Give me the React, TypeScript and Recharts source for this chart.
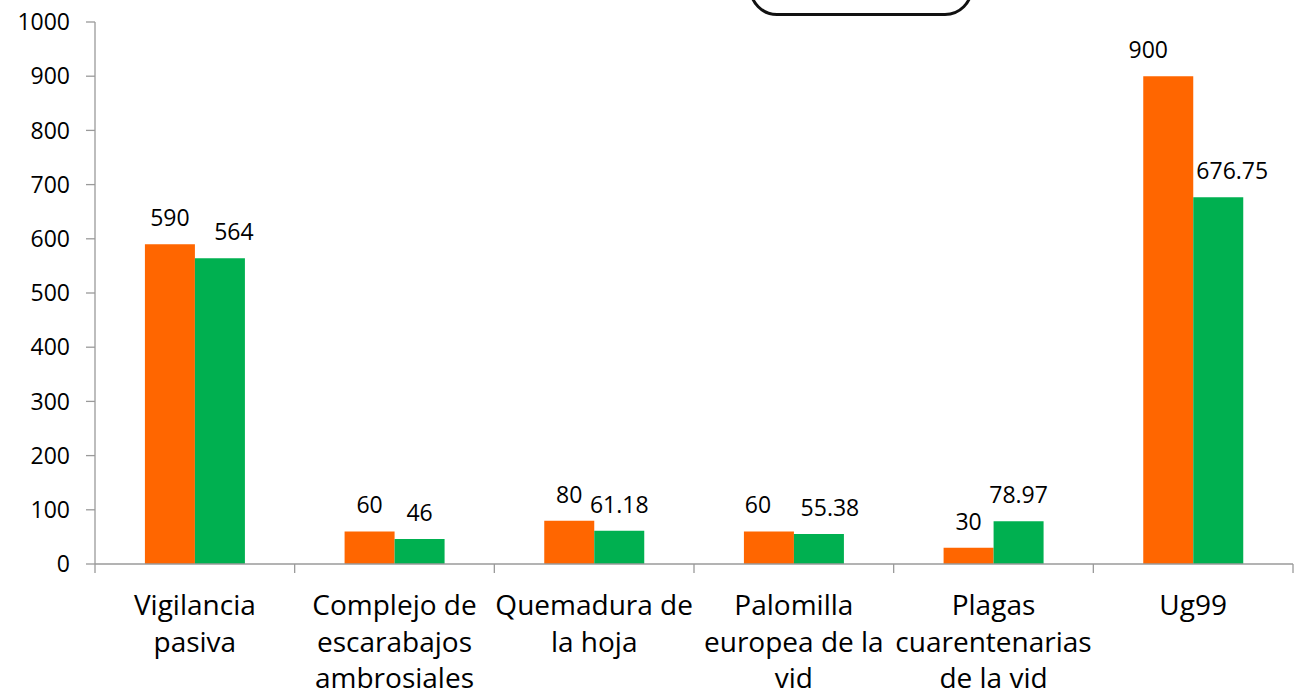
import { Bar, BarChart, LabelList, Legend, XAxis, YAxis } from "recharts";

const categories = [
  "Vigilancia\npasiva",
  "Complejo de\nescarabajos\nambrosiales",
  "Quemadura de\nla hoja",
  "Palomilla\neuropea de la\nvid",
  "Plagas\ncuarentenarias\nde la vid",
  "Ug99",
];
const orangeValues = [590, 60, 80, 60, 30, 900];
const greenValues = [564, 46, 61.18, 55.38, 78.97, 676.75];
const yTicks = [0, 100, 200, 300, 400, 500, 600, 700, 800, 900, 1000];

// some labels were nudged sideways in the original
const orangeNudge = [0, 0, 0, -11, 0, -20];
const greenNudge = [14, 0, 0, 11, 0, 14];

const FONT = "'Open Sans', Lato, sans-serif";
const AXIS = "#9a9a9a";
const W = 1309;
const H = 697;
const MARGIN = { top: 22, right: 16, left: 0, bottom: 0 };
const Y_WIDTH = 95;
// half of one category band, so tick marks sit between categories
const HALF_BAND = (W - MARGIN.right - Y_WIDTH) / categories.length / 2;

const data = categories.map((name, i) => ({
  name,
  orange: orangeValues[i],
  green: greenValues[i],
}));

type TickProps = {
  x?: number;
  y?: number;
  index?: number;
  payload?: { value: string };
};

function CategoryTick({ x = 0, y = 0, index = 0, payload }: TickProps) {
  const lines = (payload?.value ?? "").split("\n");
  const last = index === categories.length - 1;
  return (
    <g>
      <line x1={x - HALF_BAND} x2={x - HALF_BAND} y1={y} y2={y + 9} stroke={AXIS} strokeWidth={1.3} />
      {last && (
        <line x1={x + HALF_BAND} x2={x + HALF_BAND} y1={y} y2={y + 9} stroke={AXIS} strokeWidth={1.3} />
      )}
      <text x={x} y={y} textAnchor="middle" fontSize={28} fill="#000" fontFamily={FONT}>
        {lines.map((l, i) => (
          <tspan key={i} x={x} y={y + 51 + i * 36.5}>
            {l}
          </tspan>
        ))}
      </text>
    </g>
  );
}

function makeLabel(nudge: number[]) {
  return (props: any) => {
    const { x = 0, y = 0, width = 0, value, index = 0 } = props;
    return (
      <text
        x={x + width / 2 + (nudge[index] ?? 0)}
        y={y - 18}
        textAnchor="middle"
        fontSize={23}
        fill="#000"
        fontFamily={FONT}
      >
        {value}
      </text>
    );
  };
}

function LegendBox() {
  return (
    <div
      style={{
        width: 218,
        height: 50,
        border: "3px solid #111",
        borderRadius: 28,
        background: "#fff",
      }}
    />
  );
}

export default function App() {
  return (
    <div style={{ position: "absolute", left: 0, top: 0, background: "#fff" }}>
      <BarChart
        width={W}
        height={H}
        data={data}
        margin={MARGIN}
        barCategoryGap="25%"
        barGap={0}
        style={{ fontFamily: FONT }}
      >
        <Legend
          verticalAlign="middle"
          content={() => <LegendBox />}
          wrapperStyle={{ position: "absolute", top: -40, left: 749, width: 222 }}
        />
        <XAxis
          dataKey="name"
          interval={0}
          axisLine={{ stroke: AXIS, strokeWidth: 1.3 }}
          tickLine={false}
          tickSize={0}
          tickMargin={0}
          height={133}
          tick={(p: object) => <CategoryTick {...(p as TickProps)} />}
        />
        <YAxis
          domain={[0, 1000]}
          ticks={yTicks}
          interval={0}
          width={Y_WIDTH}
          tickSize={9}
          tickMargin={16}
          axisLine={{ stroke: AXIS, strokeWidth: 1.3 }}
          tickLine={{ stroke: AXIS, strokeWidth: 1.3 }}
          tick={{ fontSize: 23, fill: "#000", fontFamily: FONT }}
        />
        <Bar dataKey="orange" fill="#FF6600" isAnimationActive={false}>
          <LabelList dataKey="orange" content={makeLabel(orangeNudge)} />
        </Bar>
        <Bar dataKey="green" fill="#00B050" isAnimationActive={false}>
          <LabelList dataKey="green" content={makeLabel(greenNudge)} />
        </Bar>
      </BarChart>
    </div>
  );
}
